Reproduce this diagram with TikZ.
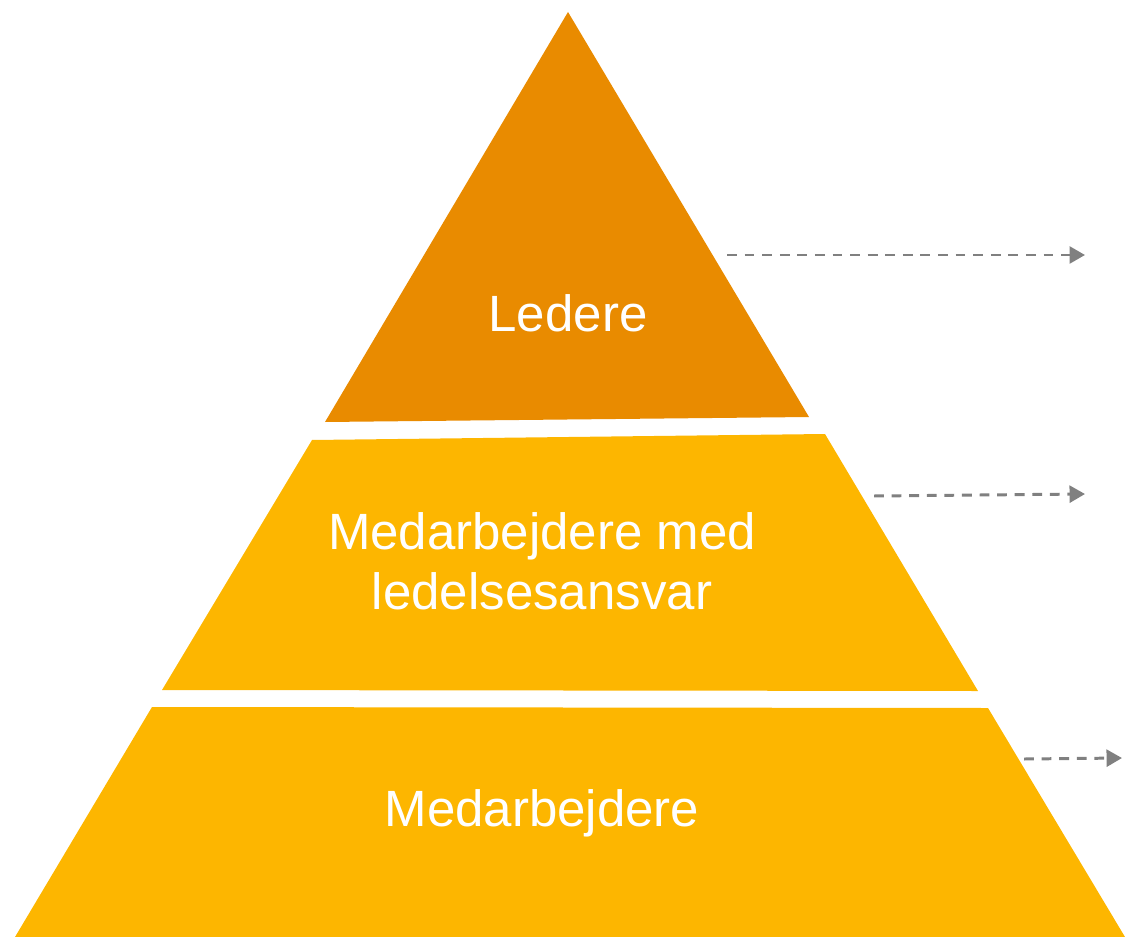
\documentclass[tikz,border=0pt]{standalone}
\usepackage{fontspec}
\setmainfont{Liberation Sans}
\usepackage{tikz}
\usetikzlibrary{arrows.meta}
\definecolor{topOrange}{HTML}{E98B00}
\definecolor{levelGold}{HTML}{FDB600}
\definecolor{arrowGray}{HTML}{808080}
\tikzset{
  levelnode/.style = {align=center, inner sep=0pt, text=white, font=\fontsize{14.5}{17}\selectfont},
  toplevel/.style = {fill=topOrange, draw=none},
  lowlevel/.style = {fill=levelGold, draw=none},
  outarrow/.style = {draw=arrowGray, line width=0.85pt, dash pattern=on 2.8pt off 2.2pt,
    -{Triangle[length=4.4pt, width=4.8pt]}},
}

\begin{document}
\begin{tikzpicture}[x=0.01cm, y=-0.01cm]
  \useasboundingbox (0,0) rectangle (1125,937);
  % pyramid levels
  \fill [toplevel] (568,12) -- (809,417) -- (325,422) -- cycle;
  \fill [lowlevel] (312,440) -- (825,434) -- (978,691) -- (162,690) -- cycle;
  \fill [lowlevel] (152,707) -- (988,708) -- (1125,937) -- (15,937) -- cycle;
  % labels
  \node [levelnode] (ledere) at (568,313) {Ledere};
  \node [levelnode] (mellem) at (542,561) {Medarbejdere med\\ledelsesansvar};
  \node [levelnode] (medarb) at (542,813) {Medarbejdere};
  % arrows
  \coordinate (a1) at (727,255);
  \coordinate (b1) at (1085,255);
  \coordinate (a2) at (874,496);
  \coordinate (b2) at (1085,494);
  \coordinate (a3) at (1024,759);
  \coordinate (b3) at (1122,758);
  \draw [outarrow] (a1) -- (b1);
  \draw [outarrow] (a2) -- (b2);
  \draw [outarrow] (a3) -- (b3);
\end{tikzpicture}
\end{document}
